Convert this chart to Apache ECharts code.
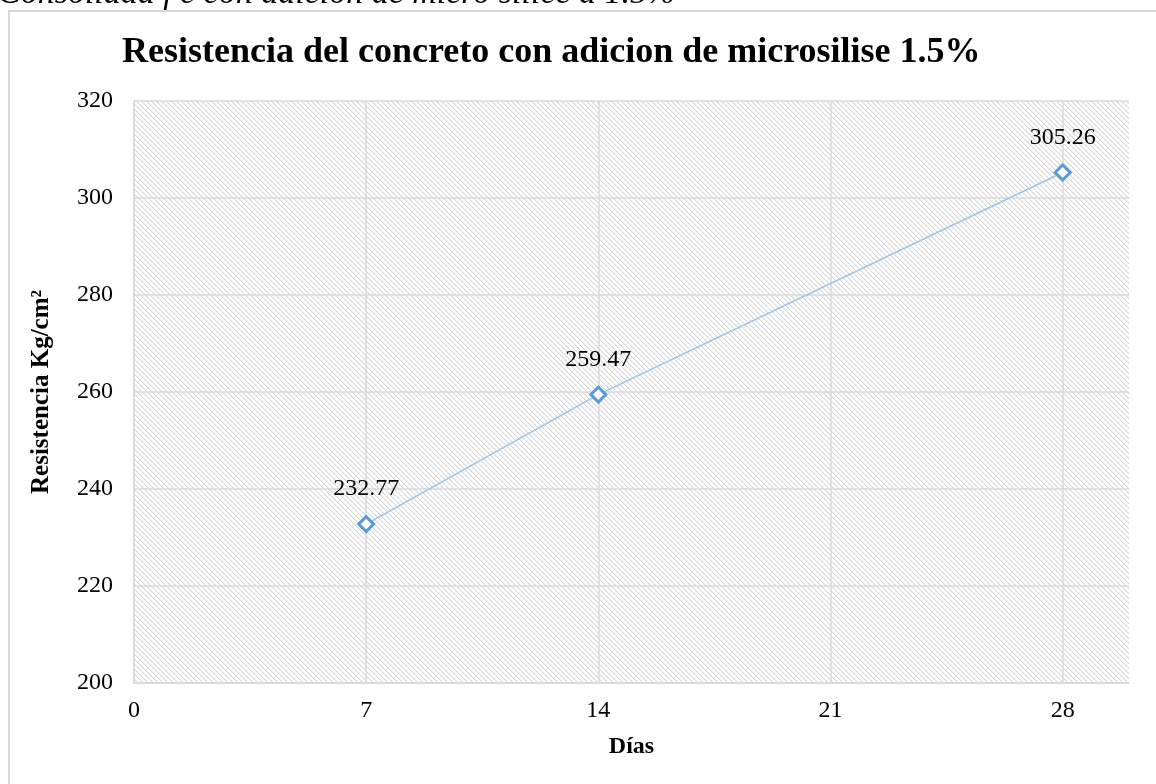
<!DOCTYPE html>
<html>
<head>
<meta charset="utf-8">
<script src="https://cdn.jsdelivr.net/npm/echarts@6/dist/echarts.min.js"></script>
<style>
  html, body { margin: 0; padding: 0; background: #fff; }
  #chart { width: 1156px; height: 784px; }
</style>
</head>
<body>
<div id="chart"></div>
<script>
// Data
const dias = [7, 14, 28];
const resistencia = [232.77, 259.47, 305.26];

const serif = '"Liberation Serif", "Times New Roman", serif';

// Diagonal hatch fill for the plot area
const hatch = document.createElement('canvas');
hatch.width = 5;
hatch.height = 5;
const hctx = hatch.getContext('2d');
hctx.fillStyle = '#ffffff';
hctx.fillRect(0, 0, 5, 5);
for (let i = 0; i < 5; i++) {
    hctx.fillStyle = '#d6d6d6';
    hctx.fillRect(i, i, 1, 1);
    hctx.fillStyle = '#efefef';
    hctx.fillRect((i + 1) % 5, i, 1, 1);
}

const chart = echarts.init(document.getElementById('chart'));

const option = {
    backgroundColor: '#ffffff',
    animation: false,
    graphic: [
        {
            type: 'rect',
            shape: { x: 9, y: 11, width: 1200, height: 800 },
            style: { fill: 'none', stroke: '#d9d9d9', lineWidth: 2 },
            z: -10
        },
        {
            type: 'text',
            left: -2,
            top: -23,
            style: {
                text: "Consolidad f'c con adicion de micro silice a 1.5%",
                font: 'italic 34px ' + serif,
                fill: '#000'
            }
        }
    ],
    title: {
        text: 'Resistencia del concreto con adicion de microsilise 1.5%',
        left: 117,
        top: 30,
        textStyle: {
            fontFamily: serif,
            fontWeight: 'bold',
            fontSize: 36,
            color: '#000'
        }
    },
    grid: {
        left: 134,
        top: 101,
        right: 27,
        bottom: 101,
        show: true,
        borderWidth: 0,
        backgroundColor: { image: hatch, repeat: 'repeat' }
    },
    xAxis: {
        type: 'value',
        min: 0,
        max: 30,
        interval: 7,
        name: 'Días',
        nameLocation: 'middle',
        nameGap: 52,
        nameTextStyle: { fontFamily: serif, fontWeight: 'bold', fontSize: 24, color: '#000' },
        axisLine: { show: true, lineStyle: { color: '#d9d9d9', width: 1.5 } },
        axisTick: { show: false },
        axisLabel: { showMaxLabel: false, margin: 16, fontFamily: serif, fontSize: 24, color: '#000' },
        splitLine: { show: true, showMaxLine: false, lineStyle: { color: '#d9d9d9', width: 1.5 } }
    },
    yAxis: {
        type: 'value',
        min: 200,
        max: 320,
        interval: 20,
        name: 'Resistencia Kg/cm²',
        nameLocation: 'middle',
        nameGap: 80,
        nameTextStyle: { fontFamily: serif, fontWeight: 'bold', fontSize: 25, color: '#000' },
        axisLine: { show: true, lineStyle: { color: '#d9d9d9', width: 1.5 } },
        axisTick: { show: false },
        axisLabel: { margin: 21, fontFamily: serif, fontSize: 24, color: '#000' },
        splitLine: { show: true, lineStyle: { color: '#d9d9d9', width: 1.5 } }
    },
    series: [{
        type: 'line',
        data: dias.map((d, i) => [d, resistencia[i]]),
        symbol: 'diamond',
        symbolSize: 15,
        lineStyle: { color: '#9dc3e6', width: 1.5 },
        itemStyle: { color: '#ffffff', borderColor: '#5b9bd5', borderWidth: 3 },
        label: {
            show: true,
            position: 'top',
            distance: 14,
            formatter: p => p.value[1].toFixed(2),
            fontFamily: serif,
            fontSize: 24,
            color: '#000'
        }
    }]
};

chart.setOption(option);
</script>
</body>
</html>
